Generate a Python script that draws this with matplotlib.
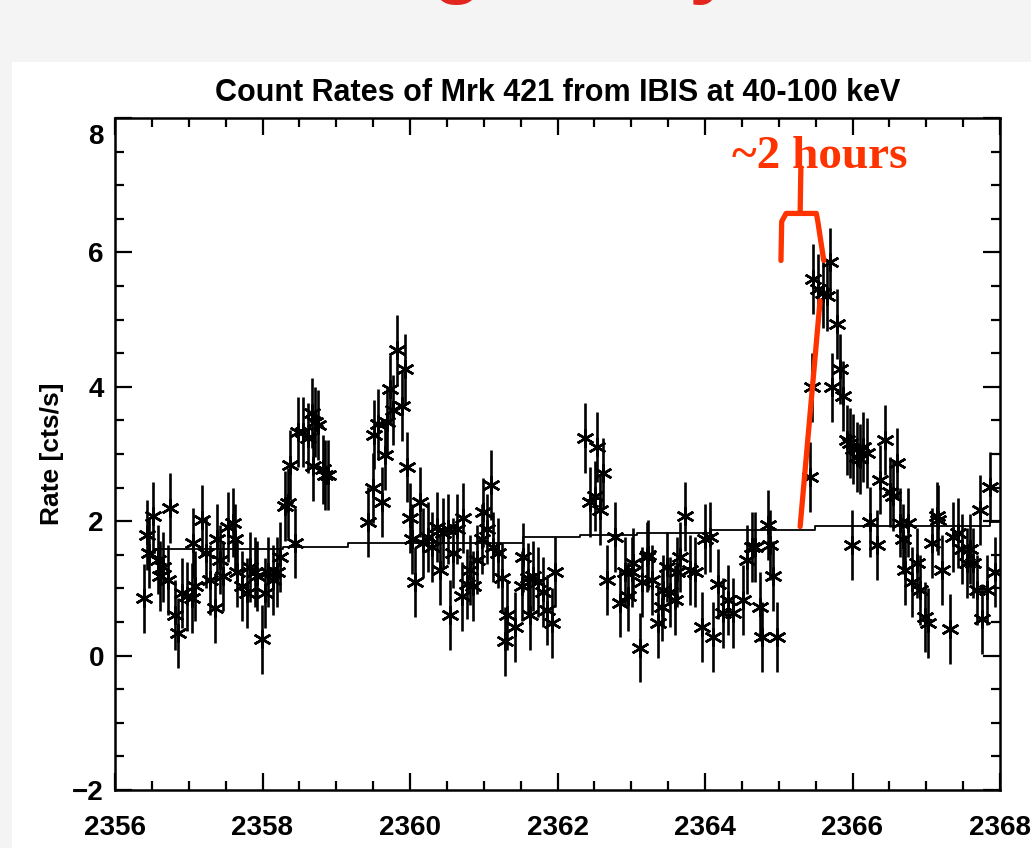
import numpy as np
import matplotlib
matplotlib.use("Agg")
import matplotlib.pyplot as plt
from matplotlib.patches import Rectangle
from matplotlib.transforms import ScaledTranslation

# IBIS 40-100 keV light curve of Mrk 421
time = [
    2356.39, 2356.43, 2356.46, 2356.52, 2356.58, 2356.61, 2356.75, 2356.65, 2356.72, 2356.81,
    2356.85, 2356.91, 2356.98, 2357.04, 2357.08, 2357.06, 2357.18, 2357.23, 2357.29, 2357.36,
    2357.38, 2357.42, 2357.46, 2357.53, 2357.60, 2357.63, 2357.65, 2357.72, 2357.79, 2357.83,
    2357.90, 2357.93, 2357.99, 2358.03, 2358.07, 2358.14, 2358.20, 2358.24, 2358.31, 2358.35,
    2358.37, 2358.44, 2358.48, 2358.55, 2358.62, 2358.67, 2358.71, 2358.68, 2358.75, 2358.82,
    2358.85, 2358.89,
    2359.43, 2359.50, 2359.62, 2359.51, 2359.57, 2359.69, 2359.66, 2359.73, 2359.77, 2359.82,
    2359.89, 2359.93, 2359.96, 2360.00, 2360.03, 2360.07, 2360.14, 2360.18, 2360.24, 2360.30,
    2360.37, 2360.41, 2360.45, 2360.52, 2360.54, 2360.58, 2360.64, 2360.71, 2360.72, 2360.77,
    2360.81, 2360.85, 2360.91, 2360.98, 2360.99, 2361.04, 2361.10, 2361.13, 2361.19, 2361.25,
    2361.32, 2361.29, 2361.42, 2361.52, 2361.53, 2361.60, 2361.63, 2361.67, 2361.74, 2361.80,
    2361.86, 2361.93, 2361.97,
    2362.37, 2362.54, 2362.62, 2362.44, 2362.51, 2362.58, 2362.78, 2362.67, 2362.85, 2362.92,
    2362.96, 2363.02, 2363.01, 2363.12, 2363.15, 2363.21, 2363.23, 2363.28, 2363.36, 2363.42,
    2363.43, 2363.48, 2363.53, 2363.59, 2363.62, 2363.66, 2363.73, 2363.80, 2363.86, 2363.96,
    2364.00, 2364.07, 2364.11, 2364.18, 2364.24, 2364.31, 2364.38, 2364.52, 2364.57, 2364.64,
    2364.68, 2364.75, 2364.77, 2364.85, 2364.88, 2364.92, 2364.98,
    2365.42, 2365.45, 2365.46, 2365.53, 2365.60, 2365.65, 2365.69, 2365.79, 2365.72, 2365.83,
    2365.87, 2365.93, 2365.97, 2366.01, 2366.06, 2365.99, 2366.10, 2366.14, 2366.20, 2366.24,
    2366.33, 2366.37, 2366.44, 2366.51, 2366.55, 2366.60, 2366.64, 2366.68, 2366.71, 2366.75,
    2366.81, 2366.87, 2366.92, 2366.98, 2367.02, 2367.08, 2367.15, 2367.16, 2367.21, 2367.32,
    2367.36, 2367.43, 2367.49, 2367.55, 2367.59, 2367.63, 2367.69, 2367.73, 2367.76, 2367.82,
    2367.86, 2367.93,
]
rate = [
    0.85, 1.80, 1.53, 2.07, 1.43, 1.18, 2.20, 1.32, 1.13, 0.61,
    0.34, 0.93, 0.88, 0.86, 1.03, 1.68, 2.02, 1.53, 1.13, 0.71,
    1.73, 1.43, 1.18, 1.92, 1.98, 1.73, 1.24, 1.03, 0.93, 1.32,
    1.24, 1.18, 0.24, 0.93, 1.24, 1.13, 1.24, 1.47, 2.22, 2.27,
    2.84, 1.68, 3.33, 3.33, 3.24, 3.61, 3.48, 2.82, 3.43, 2.77,
    2.69, 2.69,
    1.99, 2.50, 2.29, 3.29, 3.44, 3.48, 2.99, 3.96, 3.66, 4.55,
    3.71, 4.26, 2.80, 2.05, 1.73, 1.10, 2.28, 1.68, 1.76, 1.62,
    1.92, 1.28, 1.83, 1.88, 0.61, 1.53, 1.88, 0.88, 2.05, 1.06,
    1.28, 1.03, 1.43, 1.73, 2.13, 1.88, 2.54, 1.62, 1.53, 1.16,
    0.61, 0.21, 0.43, 1.03, 1.46, 1.16, 0.61, 1.18, 1.09, 0.94,
    0.68, 0.49, 1.24,
    3.24, 3.10, 2.72, 2.28, 2.37, 2.17, 1.76, 1.13, 0.79, 1.24,
    0.88, 1.38, 1.24, 0.12, 1.10, 1.47, 1.50, 1.13, 0.49, 0.73,
    0.98, 1.32, 0.94, 0.83, 1.24, 1.47, 2.07, 1.28, 1.24, 0.43,
    1.73, 1.77, 0.28, 1.06, 0.64, 0.83, 0.64, 0.83, 1.43, 1.62,
    1.62, 0.73, 0.28, 1.95, 1.65, 1.18, 0.28,
    2.66, 3.99, 5.60, 5.45, 5.40, 5.35, 5.85, 4.93, 3.99, 4.26,
    3.86, 3.21, 3.17, 3.07, 2.96, 1.65, 2.92, 3.11, 3.02, 1.99,
    1.65, 2.62, 3.21, 2.43, 2.37, 2.87, 1.98, 1.73, 1.28, 1.98,
    1.09, 1.38, 0.98, 0.58, 0.49, 1.68, 2.07, 2.02, 1.28, 0.39,
    1.77, 1.83, 1.58, 1.38, 1.58, 1.38, 0.98, 2.17, 0.54, 0.98,
    2.51, 1.24,
]
rate_err = 0.52

# stepped background level
bkg_time = [2356.43, 2356.54, 2358.28, 2359.16, 2361.53, 2362.31, 2363.08, 2364.07,
            2365.49, 2367.86, 2368.00]
bkg_rate = [1.53, 1.58, 1.62, 1.67, 1.76, 1.80, 1.83, 1.875, 1.93, 1.99, 1.99]

# hand-drawn annotation of the flare rise
rise_x = [2365.29, 2365.56]
rise_y = [1.92, 5.28]
brace_x = [2365.03, 2365.04, 2365.10, 2365.51, 2365.53, 2365.61]
brace_y = [5.88, 6.46, 6.58, 6.58, 6.46, 5.88]
stem_x = [2365.29, 2365.30]
stem_y = [6.58, 7.26]

red = "#ff3300"
W, H = 1031, 848
fig = plt.figure(figsize=(W / 100, H / 100), dpi=100, facecolor="#f4f4f4")
fig.patches.append(Rectangle((12 / W, 0), 1, (H - 62) / H, transform=fig.transFigure,
                             facecolor="white", edgecolor="none", zorder=-5))

# bits of the slide heading that peek in at the top
for xf, ch in [(0.419, "g"), (0.668, "y")]:
    fig.text(xf, 1.014, ch, color="#e3261d", fontsize=60, fontweight="bold",
             family=["Liberation Sans", "DejaVu Sans"], va="baseline")

ax = fig.add_axes([115 / W, 1 - 790 / H, 885 / W, 672 / H])
ax.set_facecolor("none")

ax.errorbar(time, rate, yerr=rate_err, fmt="none", ecolor="black", elinewidth=1.9)
ax.plot(time, rate, ls="none", marker=(6, 2, 0), ms=13, mec="black", mew=1.8)
ax.step(bkg_time, bkg_rate, where="post", color="black", lw=1.3)

ax.plot(rise_x, rise_y, color=red, lw=3.8, solid_capstyle="round")
ax.plot(brace_x, brace_y, color=red, lw=3.8, solid_capstyle="round", solid_joinstyle="round")
ax.plot(stem_x, stem_y, color=red, lw=3.8, solid_capstyle="round")
ax.text(2364.36, 7.25, "~2 hours", color=red, fontsize=34, fontweight="bold",
        family=["Liberation Serif", "DejaVu Serif"], va="baseline")

ax.set_xlim(2356, 2368)
ax.set_ylim(-2, 8)
ax.set_xticks(np.arange(2356, 2369, 2))
ax.set_xticks(np.arange(2356, 2368.1, 0.5), minor=True)
ax.set_yticks(np.arange(-2, 9, 2))
ax.set_yticks(np.arange(-2, 8.1, 0.5), minor=True)

for s in ax.spines.values():
    s.set_linewidth(1.8)
ax.tick_params(which="both", direction="in", top=True, right=True, width=1.6)
ax.tick_params(which="major", length=12.5)
ax.tick_params(which="minor", length=6.5)
ax.tick_params(axis="x", which="major", pad=18)
ax.tick_params(axis="y", which="major", pad=8)
for lab in ax.get_xticklabels() + ax.get_yticklabels():
    lab.set_family(["Liberation Sans", "DejaVu Sans"])
    lab.set_fontweight("bold")
    lab.set_fontsize(20)

# the top y label sits a little below its tick, as in the original
top = ax.yaxis.get_major_ticks()[-1].label1
top.set_transform(top.get_transform() + ScaledTranslation(0, -0.16, fig.dpi_scale_trans))

ax.set_ylabel("Rate [cts/s]", fontsize=19, fontweight="bold",
              family=["Liberation Sans", "DejaVu Sans"], labelpad=6)
ax.set_title("Count Rates of Mrk 421 from IBIS at 40-100 keV", fontsize=22,
             fontweight="bold", family=["Liberation Sans", "DejaVu Sans"], pad=12)

fig.savefig("out.png", dpi=100, facecolor=fig.get_facecolor())
